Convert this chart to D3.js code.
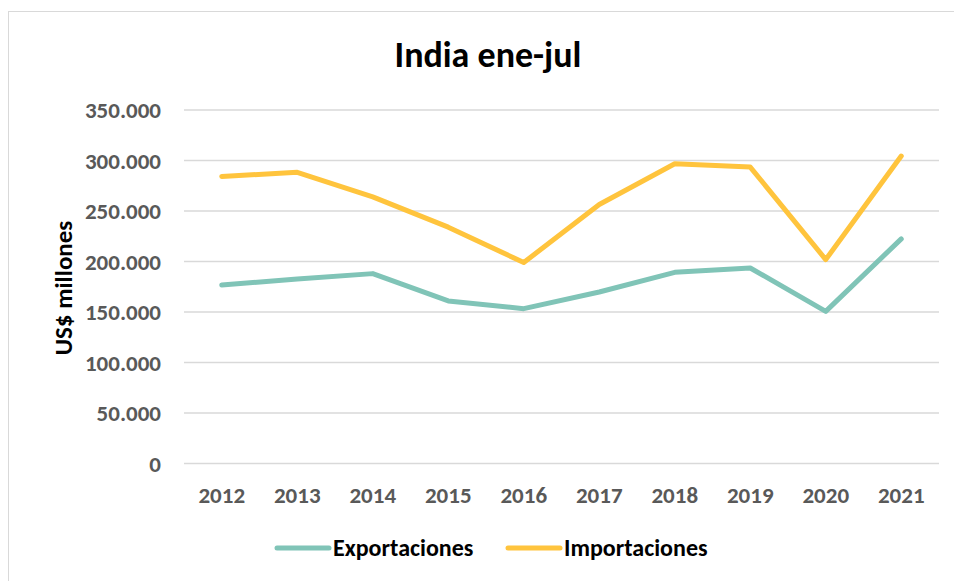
<!DOCTYPE html>
<html>
<head>
<meta charset="utf-8">
<script src="https://cdn.jsdelivr.net/npm/d3@7"></script>
<style>
    body { margin: 0; background: #fff; }
    text { font-family: Carlito, Lato, "Open Sans", sans-serif; font-weight: bold; }
</style>
</head>
<body>
<script>
// data
var years = ["2012","2013","2014","2015","2016","2017","2018","2019","2020","2021"];
var exportaciones = [176800, 182700, 188000, 161000, 153300, 169800, 189300, 193600, 150600, 222400];
var importaciones = [284200, 288300, 264000, 234000, 199000, 256400, 296800, 293500, 201900, 304400];
var yTicks = [0, 50000, 100000, 150000, 200000, 250000, 300000, 350000];
var seriesNames = ["Exportaciones", "Importaciones"];
var seriesColors = ["#80c4b7", "#ffc43d"];

(function(){
    var width = 954,
        height = 581;

    var svg = d3.select("body")
        .append("svg")
        .attr("width", width)
        .attr("height", height);

    // chart frame
    svg.append("rect")
        .attr("x", 8.5).attr("y", 11.5)
        .attr("width", 960).attr("height", 600)
        .attr("fill", "none")
        .attr("stroke", "#d9d9d9")
        .attr("stroke-width", 1);

    var x = d3.scalePoint()
        .domain(years)
        .range([184, 939])
        .padding(0.5);

    var y = d3.scaleLinear()
        .domain([0, 350000])
        .range([463.5, 110]);

    // thousands with dot separator
    var fmt = d3.formatLocale({decimal: ",", thousands: ".", grouping: [3], currency: ["", ""]}).format(",");

    // gridlines
    svg.append("g").selectAll("line")
        .data(yTicks)
        .enter()
        .append("line")
        .attr("x1", 184).attr("x2", 939)
        .attr("y1", function(d){ return y(d); })
        .attr("y2", function(d){ return y(d); })
        .attr("stroke", "#d9d9d9")
        .attr("stroke-width", 1.5);

    // y tick labels
    svg.append("g").selectAll("text")
        .data(yTicks)
        .enter()
        .append("text")
        .attr("x", 161)
        .attr("y", function(d){ return y(d); })
        .attr("dy", "0.35em")
        .attr("text-anchor", "end")
        .attr("fill", "#595959")
        .style("font-size", "23px")
        .text(function(d){ return fmt(d); });

    // x tick labels
    svg.append("g").selectAll("text")
        .data(years)
        .enter()
        .append("text")
        .attr("x", function(d){ return x(d); })
        .attr("y", 495)
        .attr("dy", "0.35em")
        .attr("text-anchor", "middle")
        .attr("fill", "#595959")
        .style("font-size", "23px")
        .text(function(d){ return d; });

    // title
    svg.append("text")
        .attr("x", 488).attr("y", 67)
        .attr("text-anchor", "middle")
        .attr("fill", "#000")
        .style("font-size", "36px")
        .text("India ene-jul");

    // y axis title
    svg.append("text")
        .attr("transform", "translate(63,288) rotate(-90)")
        .attr("text-anchor", "middle")
        .attr("dy", "0.35em")
        .attr("fill", "#000")
        .style("font-size", "25px")
        .text("US$ millones");

    var line = d3.line()
        .x(function(d, i){ return x(years[i]); })
        .y(function(d){ return y(d); });

    [exportaciones, importaciones].forEach(function(vals, i){
        svg.append("path")
            .datum(vals)
            .attr("d", line)
            .attr("fill", "none")
            .attr("stroke", seriesColors[i])
            .attr("stroke-width", 5)
            .attr("stroke-linejoin", "round")
            .attr("stroke-linecap", "round");
    });

    // legend
    var legendX = [277, 508];
    var legend = svg.append("g").selectAll("g")
        .data(seriesNames)
        .enter()
        .append("g")
        .attr("transform", function(d, i){ return "translate(" + legendX[i] + ",548)"; });

    legend.append("line")
        .attr("x1", 0).attr("x2", 52)
        .attr("stroke", function(d, i){ return seriesColors[i]; })
        .attr("stroke-width", 5)
        .attr("stroke-linecap", "round");

    legend.append("text")
        .attr("x", 56)
        .attr("dy", "0.35em")
        .attr("fill", "#000")
        .style("font-size", "24px")
        .text(function(d){ return d; });
})();
</script>
</body>
</html>
